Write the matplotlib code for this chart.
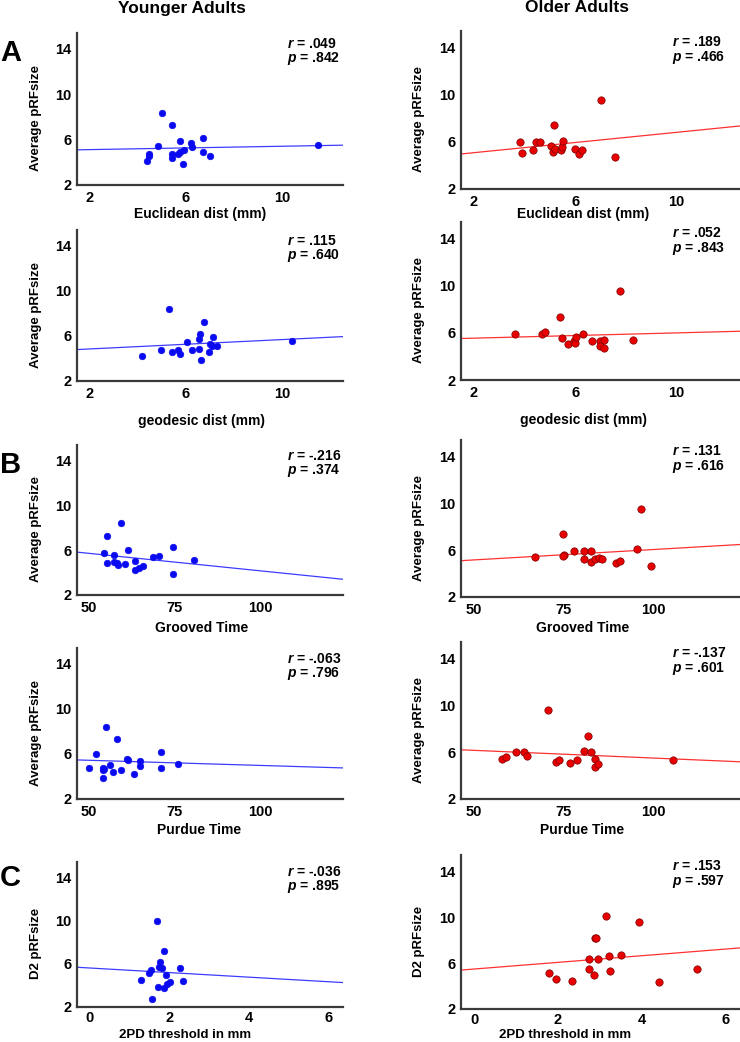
import numpy as np
import matplotlib
matplotlib.use("Agg")
import matplotlib.pyplot as plt

plt.rcParams['font.family'] = ['Liberation Sans', 'DejaVu Sans']
plt.rcParams['font.weight'] = 'bold'
plt.rcParams['mathtext.fontset'] = 'custom'
plt.rcParams['mathtext.it'] = 'Liberation Sans:italic:bold'
plt.rcParams['mathtext.rm'] = 'Liberation Sans:bold'

# ---- data ----
# A: Euclidean distance
ya_eucl_x = [5.02, 5.43, 5.78, 6.72, 6.23, 6.27, 4.83, 4.47, 4.46, 4.41, 5.41, 5.43, 5.68, 5.75, 5.92, 5.89, 6.72, 7.02, 11.45]
ya_eucl_y = [8.34, 7.25, 5.92, 6.16, 5.69, 5.33, 5.45, 4.71, 4.57, 4.12, 4.74, 4.39, 4.74, 4.95, 5.07, 3.86, 4.89, 4.57, 5.51]
oa_eucl_x = [3.81, 3.91, 4.32, 4.45, 4.61, 5.15, 5.03, 5.13, 5.22, 5.46, 5.48, 5.51, 6.00, 6.17, 6.28, 7.03, 7.56]
oa_eucl_y = [5.95, 5.05, 5.28, 5.95, 5.95, 7.40, 5.62, 5.14, 5.39, 5.33, 5.59, 6.10, 5.42, 4.97, 5.31, 9.57, 4.71]
# A: geodesic distance
ya_geo_x = [5.31, 6.74, 6.59, 6.54, 7.13, 6.03, 6.99, 7.27, 6.54, 6.26, 5.67, 4.97, 5.43, 5.75, 6.97, 4.17, 6.61, 10.41, 7.08]
ya_geo_y = [8.38, 7.24, 6.21, 5.74, 5.94, 5.44, 5.32, 5.09, 4.88, 4.76, 4.74, 4.74, 4.59, 4.38, 4.59, 4.21, 3.85, 5.53, 5.09]
oa_geo_x = [3.62, 4.70, 4.83, 5.39, 5.48, 5.72, 5.95, 6.00, 6.05, 6.32, 6.65, 6.99, 6.99, 7.12, 7.12, 7.78, 8.29]
oa_geo_y = [5.94, 5.94, 6.08, 7.38, 5.55, 5.04, 5.27, 5.13, 5.61, 5.94, 5.30, 5.32, 4.90, 5.41, 4.70, 9.55, 5.41]
# B: Grooved pegboard time
ya_groove_x = [59.3, 55.3, 54.3, 57.3, 61.3, 74.4, 55.3, 57.3, 58.2, 58.4, 60.4, 63.5, 68.5, 70.4, 63.4, 64.5, 65.6, 74.4, 80.5]
ya_groove_y = [8.43, 7.31, 5.78, 5.60, 6.01, 6.25, 4.83, 4.95, 4.83, 4.68, 4.77, 5.04, 5.39, 5.51, 4.21, 4.43, 4.62, 3.89, 5.10]
oa_groove_x = [67.1, 74.8, 75.0, 77.9, 80.8, 80.8, 82.7, 82.7, 83.8, 84.7, 85.7, 89.5, 90.6, 95.4, 96.4, 99.4, 74.8]
oa_groove_y = [5.39, 7.37, 5.62, 5.90, 5.90, 5.22, 5.90, 4.97, 5.25, 5.36, 5.25, 4.91, 5.05, 6.07, 9.54, 4.68, 5.53]
# B: Purdue pegboard time
ya_purdue_x = [55.0, 58.1, 52.1, 50.0, 54.1, 54.1, 54.1, 56.1, 57.1, 59.2, 61.2, 61.4, 63.0, 65.0, 65.0, 71.1, 71.1, 76.0, 54.3]
ya_purdue_y = [8.43, 7.30, 5.97, 4.79, 4.79, 4.61, 3.87, 5.02, 4.43, 4.61, 5.56, 5.50, 4.19, 5.38, 4.93, 6.21, 4.76, 5.11, 4.70]
oa_purdue_x = [57.9, 58.9, 61.9, 63.9, 64.9, 70.8, 72.8, 73.8, 76.7, 78.6, 80.7, 81.7, 82.7, 83.6, 83.7, 84.6, 105.3]
oa_purdue_y = [5.42, 5.56, 5.98, 5.98, 5.64, 9.56, 5.14, 5.33, 5.08, 5.31, 6.12, 7.41, 5.98, 5.45, 4.75, 4.97, 5.36]
# C: two-point discrimination
ya_2pd_x = [1.68, 1.85, 1.75, 1.73, 1.81, 1.54, 1.48, 2.26, 1.91, 1.29, 2.35, 2.00, 1.93, 1.71, 1.86, 1.57]
ya_2pd_y = [9.98, 7.18, 6.13, 5.70, 5.61, 5.40, 5.13, 5.58, 4.98, 4.53, 4.38, 4.29, 4.14, 3.87, 3.72, 2.75]
oa_2pd_x = [1.78, 1.96, 2.33, 2.74, 2.74, 2.85, 2.88, 2.91, 2.96, 3.15, 3.22, 3.25, 3.51, 3.94, 4.41, 5.32]
oa_2pd_y = [5.11, 4.60, 4.43, 6.32, 5.45, 4.94, 8.19, 8.16, 6.38, 10.05, 6.63, 5.33, 6.69, 9.54, 4.34, 5.50]

# fit lines as drawn in the figure (slope, intercept)
ya_fit_slope = [0.0373, 0.1045, -0.0313, -0.00916, -0.212]
ya_fit_icpt = [5.044, 4.633, 7.286, 5.894, 5.604]
oa_fit_slope = [0.216, 0.0559, 0.0178, -0.0132, 0.289]
oa_fit_icpt = [4.646, 5.436, 4.273, 6.814, 5.48]

ya_stats = [("r = .049", "p = .842"), ("r = .115", "p = .640"), ("r = -.216", "p = .374"),
            ("r = -.063", "p = .796"), ("r = -.036", "p = .895")]
oa_stats = [("r = .189", "p = .466"), ("r = .052", "p = .843"), ("r = .131", "p = .616"),
            ("r = -.137", "p = .601"), ("r = .153", "p = .597")]

x_labels = ["Euclidean dist (mm)", "geodesic dist (mm)", "Grooved Time", "Purdue Time", "2PD threshold in mm"]
y_labels = ["Average pRFsize"] * 4 + ["D2 pRFsize"]
x_ticks = [[2, 6, 10], [2, 6, 10], [50, 75, 100], [50, 75, 100], [0, 2, 4, 6]]
x_lims = [(1.5, 12.5), (1.5, 12.5), (46.5, 124), (46.5, 124), (-0.32, 6.35)]
y_ticks = [2, 6, 10, 14]

young = [(ya_eucl_x, ya_eucl_y), (ya_geo_x, ya_geo_y), (ya_groove_x, ya_groove_y),
         (ya_purdue_x, ya_purdue_y), (ya_2pd_x, ya_2pd_y)]
older = [(oa_eucl_x, oa_eucl_y), (oa_geo_x, oa_geo_y), (oa_groove_x, oa_groove_y),
         (oa_purdue_x, oa_purdue_y), (oa_2pd_x, oa_2pd_y)]

W, H = 740, 1042
fig = plt.figure(figsize=(W / 100, H / 100), dpi=100)

# panel boxes in pixels: (left, top, right, bottom)
young_boxes = [(77, 33, 343, 185), (77, 230, 343, 381), (77, 445, 343, 595), (77, 648, 343, 799), (77, 862, 343, 1007)]
older_boxes = [(461, 31, 740, 189), (461, 222, 740, 380), (461, 440, 740, 597), (461, 642, 740, 799), (461, 855, 740, 1009)]
# x-label centres in pixels
ya_xlab_pos = [(200, 214), (202, 421), (202, 628), (199, 830), (185, 1035)]
oa_xlab_pos = [(583, 214), (583, 420), (583, 628), (582, 830), (565, 1035)]
xlab_size = [10, 10, 10, 10, 9.5]


def px_axes(box):
    l, t, r, b = box
    return fig.add_axes([l / W, 1 - b / H, (r - l) / W, (b - t) / H])


def draw(ax, xs, ys, i, color, edge, line_color, stats, msize, k, b, stat_x):
    ax.set_xlim(*x_lims[i])
    ax.set_ylim(2, 15.4)
    xx = np.array(x_lims[i])
    ax.plot(xx, k * xx + b, color=line_color, lw=0.9, zorder=2)
    ax.scatter(xs, ys, s=msize, color=color, edgecolors=edge, linewidths=0.5, zorder=3)
    for s in ['top', 'right']:
        ax.spines[s].set_visible(False)
    for s in ['left', 'bottom']:
        ax.spines[s].set_color('#3a3a3a')
        ax.spines[s].set_linewidth(1.6)
    ax.set_xticks(x_ticks[i])
    ax.set_yticks(y_ticks)
    ax.tick_params(length=0, labelsize=10.5, pad=4)
    ax.tick_params(axis='x', pad=3 if i == 4 else 4)
    for lab in ax.get_xticklabels() + ax.get_yticklabels():
        lab.set_fontweight('bold')
    ax.set_ylabel(y_labels[i], fontsize=9.5, fontweight='bold')
    ax.yaxis.set_label_coords(-0.13, 0.44)
    r_txt = r"$\it{r}$" + stats[0][1:]
    p_txt = r"$\it{p}$" + stats[1][1:]
    ax.text(stat_x, 0.93, r_txt, transform=ax.transAxes, fontsize=10, fontweight='bold', va='center')
    ax.text(stat_x, 0.83, p_txt, transform=ax.transAxes, fontsize=10, fontweight='bold', va='center')


for i in range(5):
    ax = px_axes(young_boxes[i])
    draw(ax, *young[i], i, '#0a0af0', '#0a0af0', '#3c3cff', ya_stats[i], 22,
         ya_fit_slope[i], ya_fit_icpt[i], 0.79)
    ax = px_axes(older_boxes[i])
    draw(ax, *older[i], i, '#e80000', '#7a0000', '#ff3030', oa_stats[i], 28,
         oa_fit_slope[i], oa_fit_icpt[i], 0.755)
    fig.text(ya_xlab_pos[i][0] / W, 1 - ya_xlab_pos[i][1] / H, x_labels[i],
             ha='center', va='center', fontsize=xlab_size[i], fontweight='bold')
    fig.text(oa_xlab_pos[i][0] / W, 1 - oa_xlab_pos[i][1] / H, x_labels[i],
             ha='center', va='center', fontsize=xlab_size[i], fontweight='bold')

fig.text(182 / W, 1 - 8 / H, "Younger Adults", ha='center', va='center', fontsize=12.5, fontweight='bold')
fig.text(577 / W, 1 - 8 / H, "Older Adults", ha='center', va='center', fontsize=12.5, fontweight='bold')
for letter, y in [("A", 53), ("B", 465), ("C", 878)]:
    fig.text(0, 1 - y / H, letter, ha='left', va='center', fontsize=21, fontweight='bold')

fig.savefig("out.png", dpi=100)
